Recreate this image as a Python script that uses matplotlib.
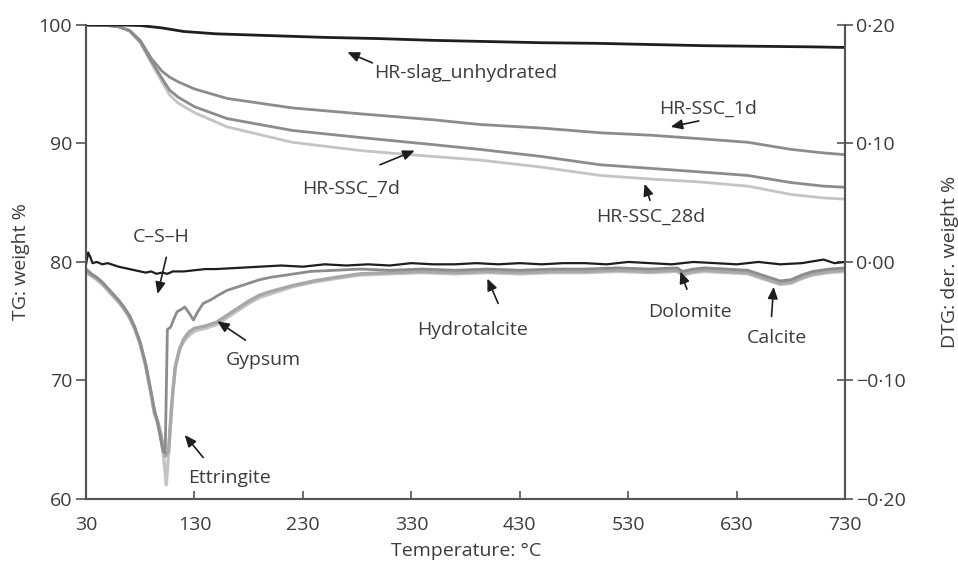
import matplotlib
matplotlib.use("Agg")
import matplotlib.pyplot as plt

plt.rcParams['font.family'] = ['Open Sans', 'DejaVu Sans']

# ---- TG curves (weight %) ----
tg_t = [30, 50, 60, 70, 80, 90, 100, 107, 115, 130, 160, 220, 283, 350, 393, 450,
        504, 550, 596, 640, 680, 710, 730]
tg_slag_t = [30, 60, 80, 100, 120, 150, 200, 250, 300, 350, 400, 450, 500, 550,
             600, 650, 700, 730]
tg_slag = [100, 100, 99.95, 99.75, 99.45, 99.25, 99.1, 98.95, 98.85, 98.7, 98.6,
           98.5, 98.45, 98.35, 98.25, 98.2, 98.15, 98.1]
tg_1d = [100, 99.95, 99.85, 99.55, 98.7, 97.2, 96.1, 95.6, 95.2, 94.6, 93.8, 93.0,
         92.5, 92.0, 91.6, 91.3, 90.9, 90.7, 90.4, 90.1, 89.5, 89.2, 89.05]
tg_7d = [100, 99.95, 99.85, 99.5, 98.6, 97.0, 95.5, 94.5, 93.9, 93.1, 92.1, 91.1,
         90.5, 89.9, 89.5, 88.9, 88.2, 87.9, 87.6, 87.3, 86.7, 86.4, 86.3]
tg_28d = [100, 99.95, 99.85, 99.5, 98.5, 96.8, 95.2, 94.1, 93.4, 92.6, 91.4, 90.1,
          89.4, 88.9, 88.6, 88.0, 87.3, 87.0, 86.75, 86.4, 85.7, 85.4, 85.3]

# ---- DTG curves (der. weight %) ----
dtg_slag_t = [30, 32, 34, 36, 40, 45, 50, 60, 70, 80, 85, 90, 95, 100, 105, 110,
              120, 130, 140, 150, 170, 190, 210, 230, 250, 270, 290, 310, 330, 350,
              370, 390, 410, 430, 450, 470, 490, 510, 530, 550, 570, 590, 610, 630,
              650, 670, 690, 710, 720, 730]
dtg_slag = [-0.002, 0.008, 0.004, -0.001, 0.0, -0.002, -0.001, -0.004, -0.006,
            -0.008, -0.009, -0.008, -0.010, -0.009, -0.010, -0.008, -0.008, -0.007,
            -0.006, -0.006, -0.005, -0.004, -0.003, -0.004, -0.002, -0.003, -0.002,
            -0.003, -0.001, -0.002, -0.002, -0.001, -0.002, -0.001, -0.002, -0.001,
            -0.001, -0.002, 0.000, -0.001, -0.002, 0.000, -0.001, -0.002, 0.000,
            -0.002, -0.001, 0.002, -0.001, 0.000]

dtg_1d_t = [30, 35, 40, 45, 50, 55, 60, 65, 70, 75, 80, 85, 90, 93, 96, 99, 101,
            103, 105, 108, 111, 114, 118, 121, 125, 129, 133, 138, 145, 152, 160,
            170, 180, 190, 200, 215, 237, 260, 283, 310, 340, 370, 400, 430, 460,
            490, 520, 550, 575, 580, 590, 600, 620, 640, 650, 660, 670, 680, 690,
            700, 715, 730]
dtg_1d = [-0.006, -0.010, -0.013, -0.017, -0.022, -0.027, -0.032, -0.038, -0.045,
          -0.055, -0.068, -0.086, -0.110, -0.124, -0.136, -0.150, -0.160, -0.161,
          -0.057, -0.055, -0.048, -0.042, -0.040, -0.038, -0.043, -0.049, -0.042,
          -0.035, -0.032, -0.028, -0.024, -0.021, -0.018, -0.015, -0.013, -0.011,
          -0.008, -0.007, -0.006, -0.007, -0.006, -0.007, -0.006, -0.007, -0.006,
          -0.006, -0.005, -0.006, -0.005, -0.008, -0.006, -0.005, -0.006, -0.007,
          -0.010, -0.013, -0.016, -0.015, -0.011, -0.008, -0.006, -0.005]

dtg_7d_t = [30, 35, 40, 45, 50, 55, 60, 65, 70, 75, 80, 85, 90, 93, 96, 99, 101,
            103, 106, 109, 112, 116, 120, 125, 130, 140, 150, 160, 170, 180, 190,
            200, 220, 240, 260, 283, 310, 340, 370, 400, 430, 460, 490, 520, 550,
            575, 580, 590, 600, 620, 640, 650, 660, 670, 680, 690, 700, 715, 730]
dtg_7d = [-0.008, -0.011, -0.014, -0.018, -0.023, -0.028, -0.033, -0.039, -0.046,
          -0.056, -0.069, -0.087, -0.111, -0.127, -0.134, -0.145, -0.155, -0.164,
          -0.160, -0.120, -0.090, -0.074, -0.065, -0.059, -0.056, -0.054, -0.051,
          -0.045, -0.039, -0.033, -0.028, -0.025, -0.020, -0.016, -0.013, -0.010,
          -0.009, -0.008, -0.009, -0.008, -0.009, -0.008, -0.008, -0.007, -0.008,
          -0.007, -0.010, -0.008, -0.007, -0.008, -0.009, -0.012, -0.015, -0.018,
          -0.017, -0.013, -0.010, -0.008, -0.007]

dtg_28d_t = [30, 35, 40, 45, 50, 55, 60, 65, 70, 75, 80, 85, 90, 93, 96, 99, 101,
             103, 104, 107, 110, 113, 117, 121, 126, 131, 140, 150, 160, 170, 180,
             190, 200, 220, 240, 260, 283, 310, 340, 370, 400, 430, 460, 490, 520,
             550, 575, 580, 590, 600, 620, 640, 650, 660, 670, 680, 690, 700, 715, 730]
dtg_28d = [-0.009, -0.012, -0.015, -0.019, -0.024, -0.029, -0.034, -0.040, -0.047,
           -0.057, -0.070, -0.088, -0.112, -0.128, -0.136, -0.148, -0.160, -0.178,
           -0.188, -0.150, -0.110, -0.085, -0.072, -0.066, -0.061, -0.058, -0.056,
           -0.053, -0.047, -0.041, -0.035, -0.030, -0.027, -0.021, -0.017, -0.014,
           -0.011, -0.010, -0.009, -0.010, -0.009, -0.010, -0.009, -0.009, -0.008,
           -0.009, -0.008, -0.011, -0.009, -0.008, -0.009, -0.010, -0.013, -0.016,
           -0.019, -0.018, -0.014, -0.011, -0.009, -0.008]

x_ticks = [30, 130, 230, 330, 430, 530, 630, 730]
tg_ticks = [60, 70, 80, 90, 100]
dtg_ticks = [-0.20, -0.10, 0.00, 0.10, 0.20]
dtg_labels = ['\u22120\u00b720', '\u22120\u00b710', '0\u00b700', '0\u00b710', '0\u00b720']

# annotations: text, text position, arrow head, arrow tail, axis ('tg' or 'dtg')
notes = [
    ('HR-slag_unhydrated', (380, 95.95), (271, 97.7), (294, 96.8), 'tg'),
    ('HR-SSC_1d', (604, 92.9), (569, 91.4), (595, 91.9), 'tg'),
    ('HR-SSC_7d', (274, 86.2), (333, 89.4), (301, 88.2), 'tg'),
    ('HR-SSC_28d', (551, 83.8), (545, 86.6), (550, 85.2), 'tg'),
    ('C\u2013S\u2013H', (99, 0.021), (96, -0.027), (104, 0.004), 'dtg'),
    ('Gypsum', (193, -0.083), (151, -0.050), (177, -0.066), 'dtg'),
    ('Ettringite', (162, -0.182), (121, -0.146), (138, -0.165), 'dtg'),
    ('Hydrotalcite', (386, -0.057), (400, -0.014), (410, -0.035), 'dtg'),
    ('Dolomite', (587, -0.042), (578, -0.008), (584, -0.023), 'dtg'),
    ('Calcite', (667, -0.064), (664, -0.021), (662, -0.046), 'dtg'),
]

text_col = '#3c3c3c'
axis_col = '#555555'
fs = 14

fig = plt.figure(figsize=(9.58, 5.67), dpi=100)
ax = fig.add_axes([0.0898, 0.120, 0.7925, 0.836])
ax2 = ax.twinx()

ax.plot(tg_slag_t, tg_slag, color='#1e1e1e', lw=2.0, zorder=3)
ax.plot(tg_t, tg_28d, color='#c4c4c4', lw=2.0)
ax.plot(tg_t, tg_7d, color='#8c8c8c', lw=2.0)
ax.plot(tg_t, tg_1d, color='#8c8c8c', lw=2.0)

ax2.plot(dtg_28d_t, dtg_28d, color='#c4c4c4', lw=2.4)
ax2.plot(dtg_7d_t, dtg_7d, color='#a8a8a8', lw=2.4)
ax2.plot(dtg_1d_t, dtg_1d, color='#8c8c8c', lw=2.0)
ax2.plot(dtg_slag_t, dtg_slag, color='#1e1e1e', lw=1.6)

ax.set_xlim(30, 730)
ax.set_ylim(60, 100)
ax2.set_ylim(-0.2, 0.2)
ax.set_xticks(x_ticks)
ax.set_yticks(tg_ticks)
ax2.set_yticks(dtg_ticks)
ax2.set_yticklabels(dtg_labels)

for a in (ax, ax2):
    a.spines['top'].set_visible(False)
    for s in ('left', 'right', 'bottom'):
        a.spines[s].set_color(axis_col)
        a.spines[s].set_linewidth(1.5)

ax.tick_params(axis='x', direction='in', length=6, width=1.2, color=axis_col,
               labelsize=fs, labelcolor=text_col, pad=12)
ax.tick_params(axis='y', direction='out', length=7, width=1.2, color=axis_col,
               labelsize=fs, labelcolor=text_col, pad=3)
ax2.tick_params(axis='y', direction='inout', length=12, width=1.2, color=axis_col,
                labelsize=fs, labelcolor=text_col, pad=2)

ax.set_xlabel('Temperature: \u00b0C', fontsize=fs, color=text_col, labelpad=6)
ax.set_ylabel('TG: weight %', fontsize=fs, color=text_col, labelpad=6)
ax2.set_ylabel('DTG: der. weight %', fontsize=fs, color=text_col, labelpad=25)

for label, txt_xy, head, tail, which in notes:
    a = ax if which == 'tg' else ax2
    a.text(txt_xy[0], txt_xy[1], label, ha='center', va='center',
           fontsize=fs, color=text_col)
    a.annotate('', xy=head, xytext=tail,
               arrowprops=dict(arrowstyle='-|>,head_length=0.7,head_width=0.3',
                               color='#1e1e1e', lw=1.2, shrinkA=0, shrinkB=0))

fig.savefig('out.png', dpi=100)
